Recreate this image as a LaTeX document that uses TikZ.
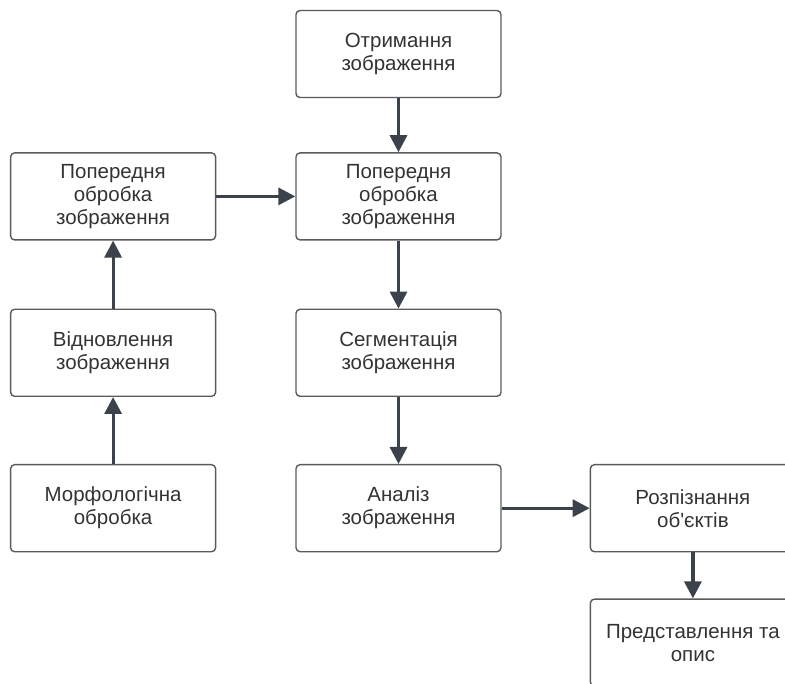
\documentclass[tikz,border=0pt]{standalone}
\usepackage{fontspec}
\setmainfont{Liberation Sans}
\usetikzlibrary{arrows.meta,positioning}
\definecolor{boxline}{HTML}{5A5A5A}
\definecolor{arrowline}{HTML}{3B424C}
\definecolor{txt}{HTML}{333333}

\begin{document}
\begin{tikzpicture}[x=1pt,y=1pt,
  blk/.style={draw=boxline,line width=1.4pt,rounded corners=4pt,align=center,
    minimum width=205pt,minimum height=87pt,text=txt,
    font=\fontsize{20.5}{23}\selectfont},
  arr/.style={-{Triangle[length=17pt,width=17pt]},line width=3.2pt,draw=arrowline}]
\useasboundingbox (0,0) rectangle (785,-684);
\clip (0,0) rectangle (785,-684);
\node[blk] (get) at (398.5,-54) {Отримання\\зображення};
\node[blk,below=54pt of get] (prep) {Попередня\\обробка\\зображення};
\node[blk,below=68pt of prep] (seg) {Сегментація\\зображення};
\node[blk,below=67pt of seg] (anal) {Аналіз\\зображення};
\node[blk,left=79pt of prep] (prepl) {Попередня\\обробка\\зображення};
\node[blk,below=68pt of prepl] (rest) {Відновлення\\зображення};
\node[blk,below=67pt of rest] (morph) {Морфологічна\\обробка};
\node[blk,right=88pt of anal] (recog) {Розпізнання\\об\textquotesingle єктів};
\node[blk,below=46pt of recog] (descr) {Представлення та\\опис};
\foreach \a/\b in {get/prep,prep/seg,seg/anal,morph/rest,rest/prepl,prepl/prep,anal/recog,recog/descr}
  \draw[arr] (\a) -- (\b);
\end{tikzpicture}
\end{document}
